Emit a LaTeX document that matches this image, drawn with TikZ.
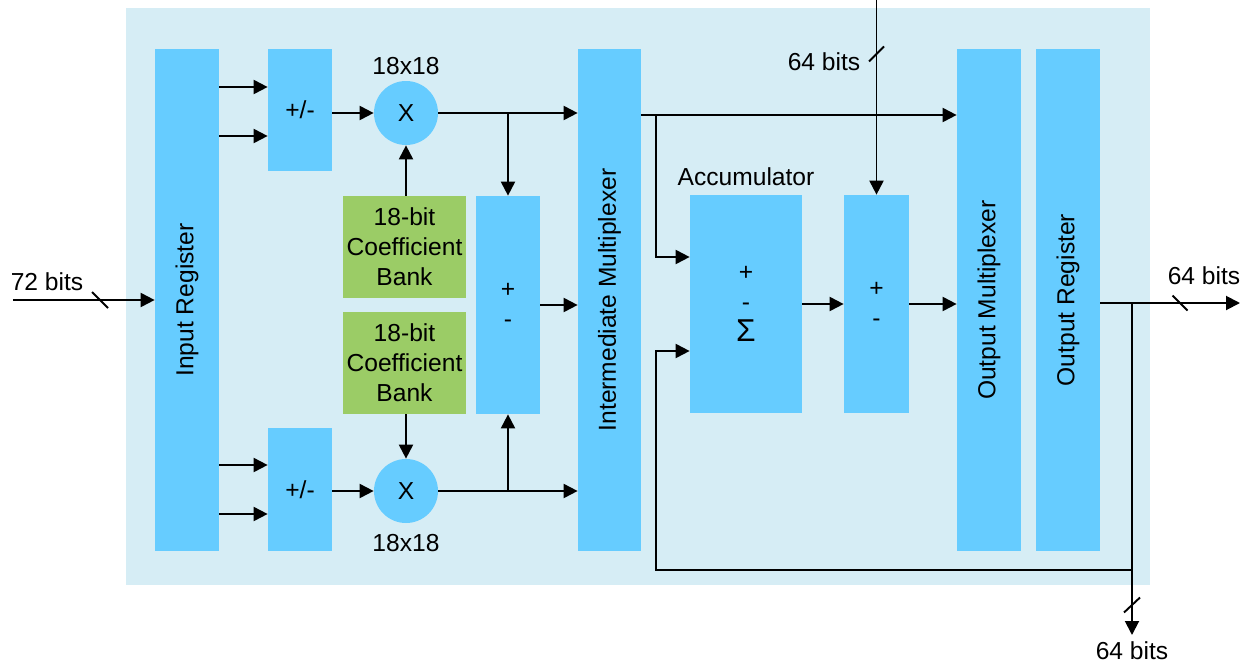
\documentclass[tikz,border=0pt]{standalone}
\usepackage{fontspec}
\setmainfont{Liberation Sans}
\usetikzlibrary{arrows.meta,positioning,calc}
\definecolor{DSPblue}{RGB}{102,204,255}
\definecolor{DSPgreen}{RGB}{155,204,102}
\definecolor{DSPback}{RGB}{214,237,245}

\begin{document}
\begin{tikzpicture}[every node/.style={font=\fontsize{14}{17}\selectfont},
    blk/.style={fill=DSPblue, minimum width=1.28cm, inner sep=0pt, align=center},
    coef/.style={fill=DSPgreen, minimum width=2.46cm, minimum height=2.04cm, inner sep=0pt, align=center},
    mult/.style={circle, fill=DSPblue, minimum size=1.28cm, inner sep=0pt},
    sig/.style={-{Triangle[length=2.8mm,width=2.8mm]}, line width=1.1pt},
    wire/.style={line width=1.1pt}]
    \useasboundingbox (0,0) rectangle (24.9,-13.3);
    \fill[DSPback] (2.52,-0.16) rectangle (23.0,-11.7);

    % blocks
    \node[blk, minimum height=10.04cm, label={[rotate=90]center:Input Register}] (inreg) at (3.74,-6.0) {};
    \node[blk, minimum height=2.44cm] (pmtop) at (6.0,-2.2) {+/-};
    \node[blk, minimum height=2.46cm] (pmbot) at (6.0,-9.79) {+/-};
    \node[mult, label={above:18x18}] (multop) at (8.12,-2.26) {X};
    \node[mult, label={[yshift=-1mm]below:18x18}] (mulbot) at (8.12,-9.82) {X};
    \node[coef] (coeftop) at (8.09,-4.94) {18-bit\\Coefficient\\Bank};
    \node[coef] (coefbot) at (8.09,-7.26) {18-bit\\Coefficient\\Bank};
    \node[blk, minimum height=4.36cm] (addsub) at (10.16,-6.1) {+\\-};
    \node[blk, minimum width=1.26cm, minimum height=10.04cm, label={[rotate=90]center:Intermediate Multiplexer}] (intermux) at (12.19,-6.0) {};
    \node[blk, minimum width=2.24cm, minimum height=4.36cm, label={[yshift=0.5mm]above:Accumulator}] (accum) at (14.92,-6.08) {+\\-\\[1pt]{\fontsize{18}{17}\selectfont Σ}};
    \node[blk, minimum width=1.3cm, minimum height=4.36cm] (adder) at (17.53,-6.08) {+\\-};
    \node[blk, minimum height=10.04cm, label={[rotate=90]center:Output Multiplexer}] (outmux) at (19.78,-6.0) {};
    \node[blk, minimum height=10.04cm, label={[rotate=90]center:Output Register}] (outreg) at (21.36,-6.0) {};

    % bus ends
    \coordinate (in72) at (0.26,-6.0);
    \coordinate (top64) at (17.53,0);
    \coordinate (out64) at (24.8,-6.06);
    \coordinate (fb) at (22.64,-6.06);
    \coordinate (down64) at (22.64,-12.7);
    \coordinate (tap) at (13.12,-2.3);
    \node (lbl72) at (0.94,-5.64) {72 bits};
    \node (lbltop) at (16.48,-1.24) {64 bits};
    \node (lblout) at (24.08,-5.52) {64 bits};
    \node (lbldown) at (22.64,-13.02) {64 bits};

    % input side
    \draw[sig] (in72) -- (inreg.west);
    \draw[wire] (2.0,-6.0) ++(-0.16,0.16) -- ++(0.32,-0.32);
    \draw[sig] (inreg.east |- 0,-1.74) -- (pmtop.west |- 0,-1.74);
    \draw[sig] (inreg.east |- 0,-2.72) -- (pmtop.west |- 0,-2.72);
    \draw[sig] (inreg.east |- 0,-9.3) -- (pmbot.west |- 0,-9.3);
    \draw[sig] (inreg.east |- 0,-10.28) -- (pmbot.west |- 0,-10.28);
    \draw[sig] (pmtop.east |- multop) -- (multop.west);
    \draw[sig] (pmbot.east |- mulbot) -- (mulbot.west);
    \draw[sig] (coeftop.north -| multop) -- (multop.south);
    \draw[sig] (coefbot.south -| mulbot) -- (mulbot.north);
    \draw[sig] (multop.east) -- (intermux.west |- multop);
    \draw[sig] (addsub.north |- multop) -- (addsub.north);
    \draw[sig] (mulbot.east) -- (intermux.west |- mulbot);
    \draw[sig] (addsub.south |- mulbot) -- (addsub.south);
    \draw[sig] (addsub.east) -- (intermux.west |- addsub.east);

    % output side
    \draw[sig] (intermux.east |- tap) -- (outmux.west |- tap);
    \draw[sig] (tap) |- (accum.west |- 0,-5.14);
    \draw[sig] (top64) -- (adder.north);
    \draw[wire] (17.53,-1.08) ++(-0.15,-0.15) -- ++(0.3,0.3);
    \draw[sig] (accum.east) -- (adder.west);
    \draw[sig] (adder.east) -- (outmux.west |- adder.east);
    \draw[sig] (outreg.east |- out64) -- (out64);
    \draw[wire] (23.6,-6.06) ++(-0.15,0.15) -- ++(0.3,-0.3);
    \draw[sig] (fb) -- (down64);
    \draw[wire] (22.64,-12.1) ++(-0.16,-0.15) -- ++(0.32,0.3);
    \draw[sig] (fb |- 0,-11.4) -| (tap |- 0,-7.02) -- (accum.west |- 0,-7.02);
\end{tikzpicture}
\end{document}
